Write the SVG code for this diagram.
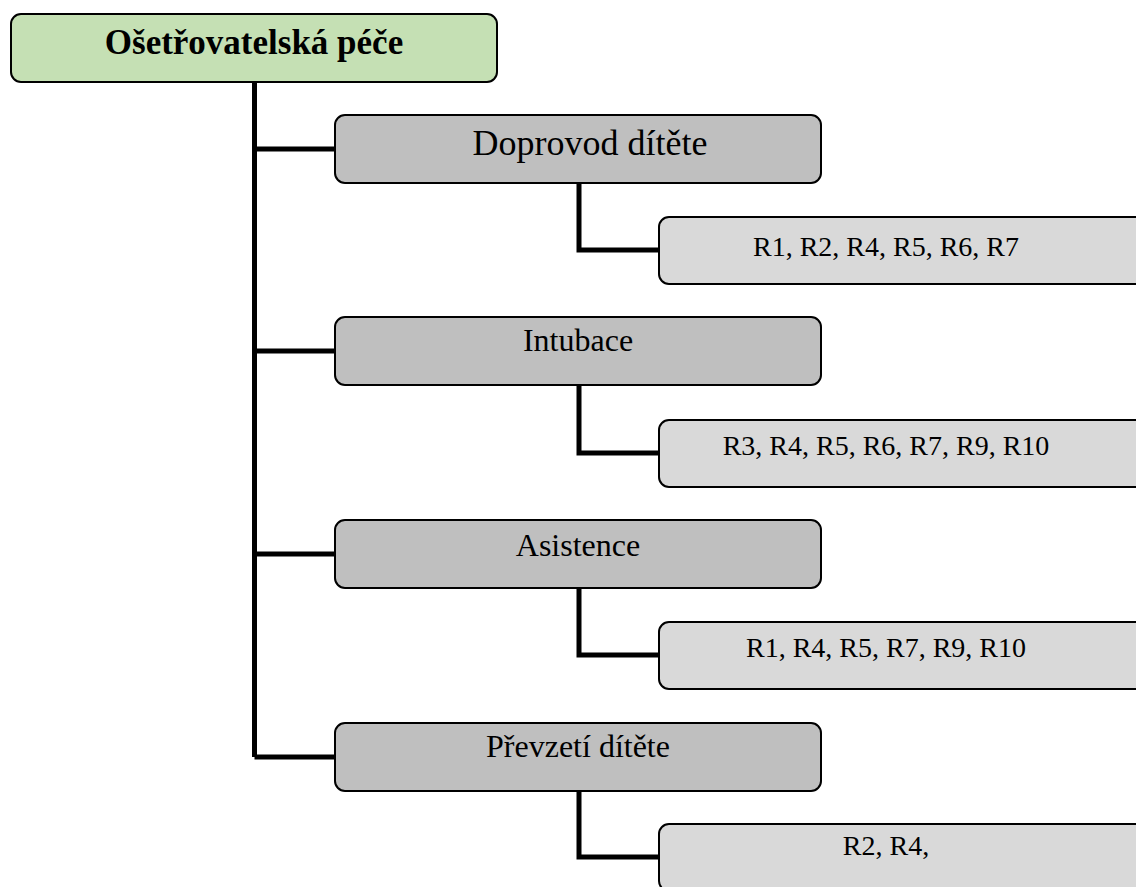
<svg xmlns="http://www.w3.org/2000/svg" width="1136" height="887" viewBox="0 0 1136 887">
<style>
.box{stroke:#000;stroke-width:2}
.root{fill:#C5E0B4}
.l1{fill:#BFBFBF}
.l2{fill:#D9D9D9}
.t{font-family:"Liberation Serif","Times New Roman",serif;fill:#000;text-anchor:middle}
.tr{font-size:35px;font-weight:bold}
.t1{font-size:32px}
.t1b{font-size:36px}
.t2{font-size:28px}
.c{fill:none;stroke:#000;stroke-width:5;stroke-linecap:butt;stroke-linejoin:miter}
</style>
<rect width="1136" height="887" fill="#fff"/>
<g id="connectors">
<path class="c" d="M254.5,82 V757"/>
<path class="c" d="M254.5,149 H335"/>
<path class="c" d="M254.5,351 H335"/>
<path class="c" d="M254.5,554 H335"/>
<path class="c" d="M254.5,757 H335"/>
<path class="c" d="M579,183 V250 H659"/>
<path class="c" d="M579,385 V453 H659"/>
<path class="c" d="M579,588 V655 H659"/>
<path class="c" d="M579,791 V857 H659"/>
</g>
<g id="root">
<rect class="box root" x="11" y="14" width="486" height="68" rx="10"/>
<text class="t tr" x="254" y="54">Ošetřovatelská péče</text>
</g>
<g id="n1">
<rect class="box l1" x="335" y="115" width="486" height="68" rx="10"/>
<text class="t t1b" x="590" y="155">Doprovod dítěte</text>
</g>
<g id="n1a">
<rect class="box l2" x="659" y="217" width="500" height="67" rx="10"/>
<text class="t t2" x="886" y="256">R1, R2, R4, R5, R6, R7</text>
</g>
<g id="n2">
<rect class="box l1" x="335" y="317" width="486" height="68" rx="10"/>
<text class="t t1" x="578" y="351">Intubace</text>
</g>
<g id="n2a">
<rect class="box l2" x="659" y="420" width="500" height="67" rx="10"/>
<text class="t t2" x="886" y="455">R3, R4, R5, R6, R7, R9, R10</text>
</g>
<g id="n3">
<rect class="box l1" x="335" y="520" width="486" height="68" rx="10"/>
<text class="t t1" x="578" y="556">Asistence</text>
</g>
<g id="n3a">
<rect class="box l2" x="659" y="622" width="500" height="67" rx="10"/>
<text class="t t2" x="886" y="657">R1, R4, R5, R7, R9, R10</text>
</g>
<g id="n4">
<rect class="box l1" x="335" y="723" width="486" height="68" rx="10"/>
<text class="t t1" x="578" y="757">Převzetí dítěte</text>
</g>
<g id="n4a">
<rect class="box l2" x="659" y="824" width="500" height="67" rx="10"/>
<text class="t t2" x="886" y="855">R2, R4,</text>
</g>
</svg>
